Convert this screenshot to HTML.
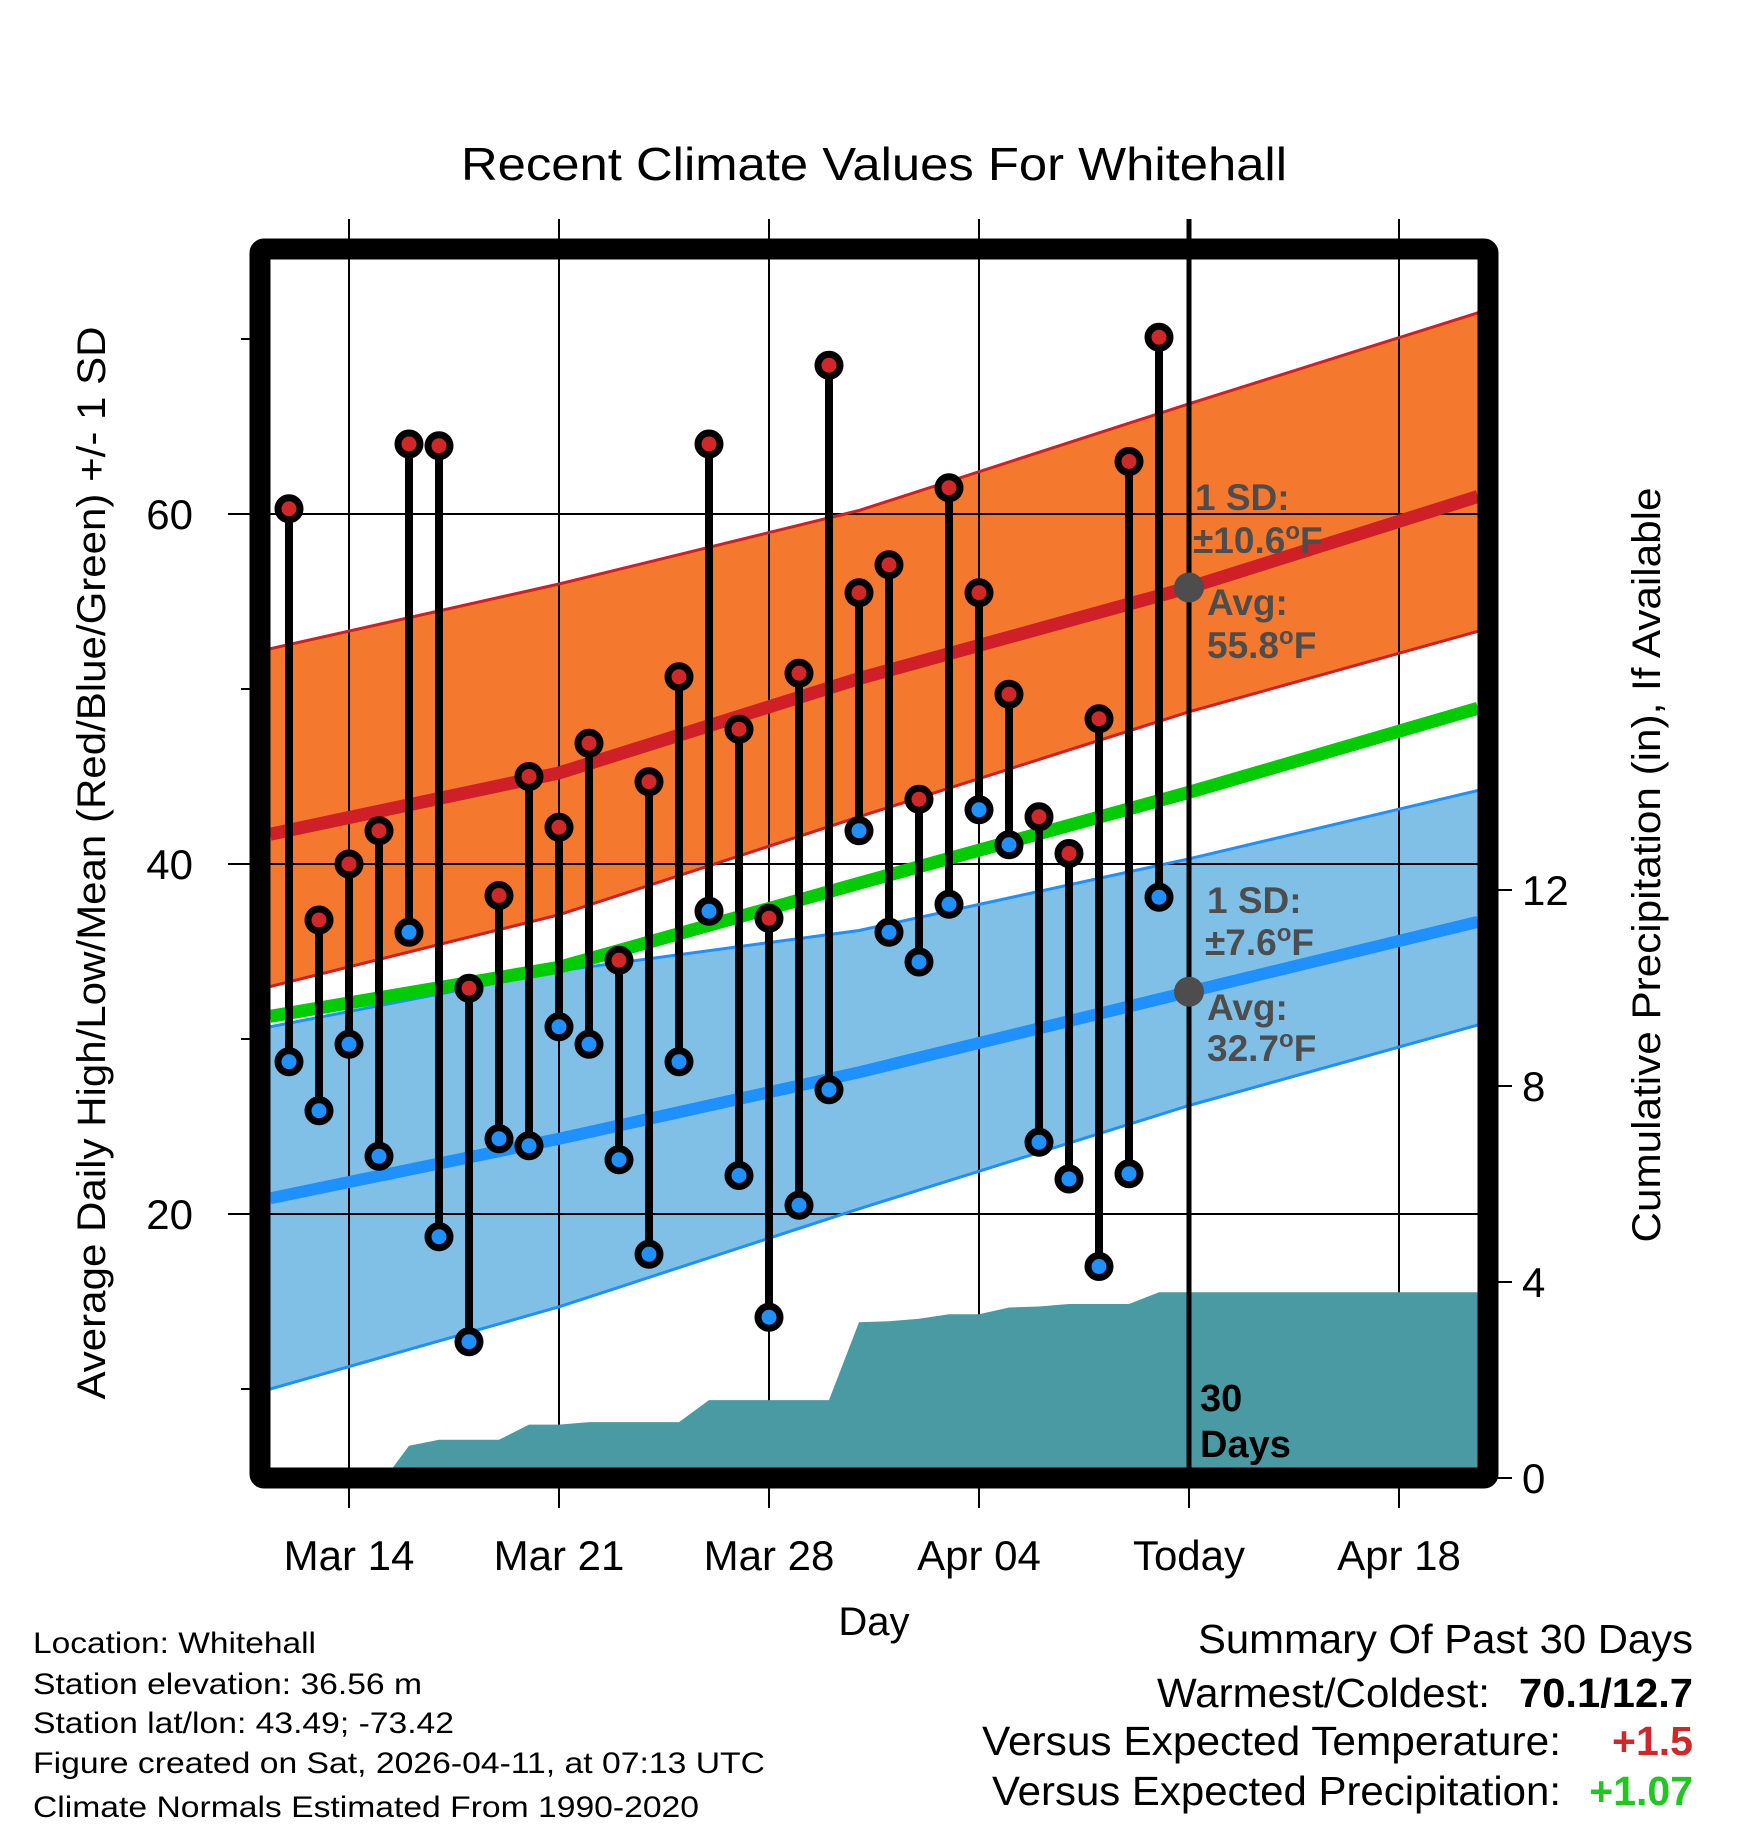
<!DOCTYPE html>
<html><head><meta charset="utf-8"><style>
html,body{margin:0;padding:0;background:#fff;}
svg{display:block;font-family:"Liberation Sans",Arial,sans-serif;}
</style></head><body>
<svg id="chart" width="1748" height="1828" viewBox="0 0 1748 1828" xmlns="http://www.w3.org/2000/svg">
<rect width="1748" height="1828" fill="#fff"/>
<text x="874" y="180" font-size="46" text-anchor="middle" textLength="826" lengthAdjust="spacingAndGlyphs">Recent Climate Values For Whitehall</text>
<g id="bands"></g>
<g id="grid"></g>
<g id="precip"></g>
<g id="lines"></g>
<g id="stems"></g>
<g id="annot"></g>
<rect x="260" y="249" width="1228" height="1229" fill="none" stroke="#000" stroke-width="21" rx="4"/>
<g id="axes"></g>
<text transform="translate(105,863) rotate(-90)" font-size="40" text-anchor="middle" textLength="1073" lengthAdjust="spacingAndGlyphs">Average Daily High/Low/Mean (Red/Blue/Green) +/- 1 SD</text>
<text transform="translate(1660,865) rotate(-90)" font-size="40" text-anchor="middle" textLength="755" lengthAdjust="spacingAndGlyphs">Cumulative Precipitation (in), If Available</text>
<text x="874" y="1635" font-size="40" text-anchor="middle">Day</text>
<g font-size="30">
<text x="33" y="1653" textLength="283" lengthAdjust="spacingAndGlyphs">Location: Whitehall</text>
<text x="33" y="1694" textLength="389" lengthAdjust="spacingAndGlyphs">Station elevation: 36.56 m</text>
<text x="33" y="1733" textLength="421" lengthAdjust="spacingAndGlyphs">Station lat/lon: 43.49; -73.42</text>
<text x="33" y="1773" textLength="732" lengthAdjust="spacingAndGlyphs">Figure created on Sat, 2026-04-11, at 07:13 UTC</text>
<text x="33" y="1817" textLength="666" lengthAdjust="spacingAndGlyphs">Climate Normals Estimated From 1990-2020</text>
</g>
<g font-size="41">
<text x="1693" y="1653" text-anchor="end" textLength="495" lengthAdjust="spacingAndGlyphs">Summary Of Past 30 Days</text>
<text x="1490" y="1707" text-anchor="end" textLength="333" lengthAdjust="spacingAndGlyphs">Warmest/Coldest:</text>
<text x="1693" y="1707" text-anchor="end" font-weight="bold" textLength="174" lengthAdjust="spacingAndGlyphs">70.1/12.7</text>
<text x="1561" y="1755" text-anchor="end" textLength="579" lengthAdjust="spacingAndGlyphs">Versus Expected Temperature:</text>
<text x="1693" y="1755" text-anchor="end" font-weight="bold" fill="#d02828">+1.5</text>
<text x="1561" y="1805" text-anchor="end" textLength="569" lengthAdjust="spacingAndGlyphs">Versus Expected Precipitation:</text>
<text x="1693" y="1805" text-anchor="end" font-weight="bold" fill="#1ec81e">+1.07</text>
</g>
</svg>
<script>
// day index 0 = Mar 12
const highs = [60.3,36.8,40.0,41.9,64.0,63.9,32.9,38.2,45.0,42.1,46.9,34.5,44.7,50.7,64.0,47.7,36.9,50.9,68.5,55.5,57.1,43.7,61.5,55.5,49.7,42.7,40.6,48.3,63.0,70.1];
const lows = [28.7,25.9,29.7,23.3,36.1,18.7,12.7,24.3,23.9,30.7,29.7,23.1,17.7,28.7,37.3,22.2,14.1,20.5,27.1,41.9,36.1,34.4,37.7,43.1,41.1,24.1,22.0,17.0,22.3,38.1];
const precipDays = [3.2,4,5,6,7,8,9,10,11,12,13,14,15,16,17,18,19,20,21,22,23,24,25,26,27,28,29,39.63];
const precipVals = [0,0.66,0.78,0.78,0.78,1.09,1.09,1.14,1.14,1.14,1.14,1.59,1.59,1.59,1.59,1.59,3.18,3.20,3.25,3.34,3.34,3.48,3.50,3.55,3.55,3.55,3.79,3.79];
const normDays = [-0.63,9,19,30,39.63];
const highUpper = [52.3,56.0,60.2,66.3,71.5];
const highAvg = [41.7,45.2,50.6,55.8,61.0];
const highLower = [33.0,37.1,42.7,48.7,53.3];
const meanAvg = [31.3,34.1,38.9,44.1,48.9];
const lowUpper = [30.7,33.9,36.2,40.3,44.2];
const lowAvg = [20.9,24.3,28.1,32.7,36.7];
const lowLower = [10.0,14.7,20.3,26.2,30.8];
const xTickDays = [2,9,16,23,30,37];
const xTickLabels = ["Mar 14","Mar 21","Mar 28","Apr 04","Today","Apr 18"];
const yTicks = [20,40,60];
const yMinor = [10,30,50,70];
const pTicks = [0,4,8,12];
const todayIdx = 30;

const NS="http://www.w3.org/2000/svg";
const x = d => 349 + (d-2)*30;
const y = t => 514 + (60-t)*17.5;
const yp = p => 1478 - p*49;
function mk(tag, attrs, parent){const e=document.createElementNS(NS,tag);for(const k in attrs)e.setAttribute(k,attrs[k]);parent.appendChild(e);return e;}
const G = id => document.getElementById(id);
function pts(days, vals){return days.map((d,i)=>x(d).toFixed(1)+","+y(vals[i]).toFixed(1));}

const defs = mk('defs',{},G('chart'));
const cp = mk('clipPath',{id:'pc'},defs);
mk('rect',{x:270,y:260,width:1208,height:1208},cp);
['bands','lines','precip'].forEach(id=>G(id).setAttribute('clip-path','url(#pc)'));

let b = mk('polygon',{points:pts(normDays,highUpper).concat(pts(normDays,highLower).reverse()).join(' '),fill:'#f4792e'},G('bands'));


b = mk('polygon',{points:pts(normDays,lowUpper).concat(pts(normDays,lowLower).reverse()).join(' '),fill:'#80c0e6'},G('bands'));



xTickDays.forEach((d,i)=>{
  const l = mk('line',{x1:x(d),x2:x(d),y1:219,y2:1508,stroke:'#000','stroke-width':2},G('grid'));
  
  
  const t = mk('text',{x:x(d),y:1570,'font-size':42,'text-anchor':'middle'},G('axes'));
  
  
  t.textContent = xTickLabels[i];
});
yTicks.forEach(v=>{
  const l = mk('line',{x1:228,x2:1478,y1:y(v),y2:y(v),stroke:'#000','stroke-width':2},G('grid'));
  
  
  const t = mk('text',{x:193,y:y(v)+15,'font-size':42,'text-anchor':'end'},G('axes'));
  
  
  t.textContent = v;
});
yMinor.forEach(v=>{
  const l = mk('line',{x1:241,x2:252,y1:y(v),y2:y(v),stroke:'#000','stroke-width':2},G('axes'));
  
  
});
pTicks.forEach(v=>{
  const l = mk('line',{x1:1496,x2:1512,y1:yp(v),y2:yp(v),stroke:'#000','stroke-width':2},G('axes'));
  
  
  const t = mk('text',{x:1522,y:yp(v)+15,'font-size':42},G('axes'));
  
  
  t.textContent = v;
});

const pp = precipDays.map((d,i)=>x(d).toFixed(1)+","+yp(precipVals[i]).toFixed(1));
pp.push(x(39.63)+","+1480, x(precipDays[0])+","+1480);
const pa = mk('polygon',{points:pp.join(' '),fill:'#4a9aa3'},G('precip'));



function pl(vals,color,w,name){
  const e = mk('polyline',{points:pts(normDays,vals).join(' '),fill:'none',stroke:color,'stroke-width':w},G('lines'));
  
  
}
pl(highUpper,'#cf2027',3,'high-upper-sd-line');
pl(highLower,'#cf2027',3,'high-lower-sd-line');
pl(lowUpper,'#1e90ff',3,'low-upper-sd-line');
pl(lowLower,'#1e90ff',3,'low-lower-sd-line');
pl(highAvg,'#cf2027',13,'avg-high-line');
pl(meanAvg,'#00cc00',13,'avg-mean-line');
pl(lowAvg,'#1e90ff',12,'avg-low-line');

const tl = mk('line',{x1:x(todayIdx),x2:x(todayIdx),y1:219,y2:1470,stroke:'#000','stroke-width':5},G('annot'));



highs.forEach((h,i)=>{
  const s = mk('line',{x1:x(i),x2:x(i),y1:y(h),y2:y(lows[i]),stroke:'#000','stroke-width':8},G('stems'));
  
  
});
highs.forEach((h,i)=>{
  const c = mk('circle',{cx:x(i),cy:y(h),r:11,fill:'#d02828',stroke:'#000','stroke-width':7},G('stems'));
  
  
  const c2 = mk('circle',{cx:x(i),cy:y(lows[i]),r:11,fill:'#1e90ff',stroke:'#000','stroke-width':7},G('stems'));
  
  
});

const A = G('annot');
function txt(s,xx,yy,name,fill,size){
  const t = mk('text',{x:xx,y:yy,'font-size':size||37,'font-weight':'bold',fill:fill||'#4d4d4d'},A);
  
  
  t.innerHTML = s;
}
const ah = highAvg[3], al = lowAvg[3];
let g1 = mk('circle',{cx:x(todayIdx),cy:y(ah),r:15,fill:'#4d4d4d'},A);


let g2 = mk('circle',{cx:x(todayIdx),cy:y(al),r:15,fill:'#4d4d4d'},A);


txt('1 SD:',1195,510,'high-sd-label');
txt('±10.6<tspan font-size="24" dy="-14">o</tspan><tspan dy="14">F</tspan>',1193,553,'high-sd-value');
txt('Avg:',1207,615,'high-avg-label');
txt('55.8<tspan font-size="24" dy="-14">o</tspan><tspan dy="14">F</tspan>',1207,658,'high-avg-value');
txt('1 SD:',1207,913,'low-sd-label');
txt('±7.6<tspan font-size="24" dy="-14">o</tspan><tspan dy="14">F</tspan>',1205,955,'low-sd-value');
txt('Avg:',1207,1020,'low-avg-label');
txt('32.7<tspan font-size="24" dy="-14">o</tspan><tspan dy="14">F</tspan>',1207,1061,'low-avg-value');
txt('30',1200,1411,'days-count-label','#000',38);
txt('Days',1200,1457,'days-label','#000',38);
</script>
</body></html>
